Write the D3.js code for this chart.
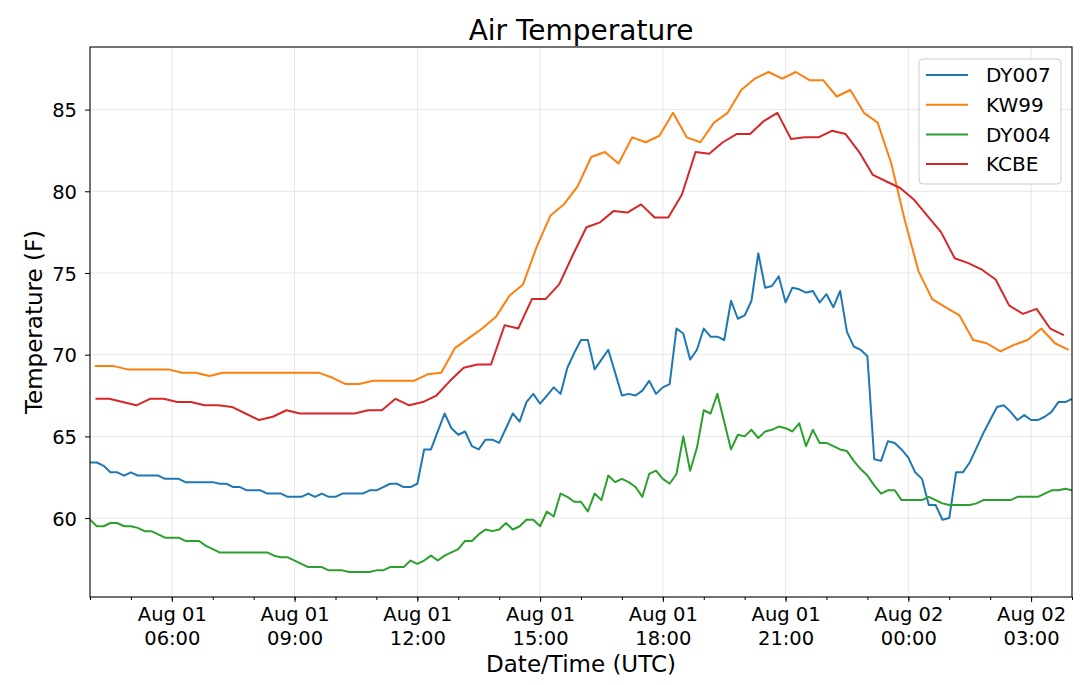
<!DOCTYPE html>
<html>
<head>
<meta charset="utf-8">
<script src="https://cdn.jsdelivr.net/npm/d3@7"></script>
<style>
  body { margin: 0; background: #fff; }
  svg text { font-family: "DejaVu Sans", sans-serif; fill: #000; }
</style>
</head>
<body>
<div id="chart"></div>
<script>
// Station readings (deg F)

// DY007 / DY004: every 10 minutes from Aug 01 04:00 UTC to Aug 02 04:00 UTC
const dy007Start = "2019-08-01T04:00Z";
const dy007Values = [
    63.4, 63.4, 63.2, 62.8, 62.8, 62.6, 62.8, 62.6, 62.6, 62.6,
    62.6, 62.4, 62.4, 62.4, 62.2, 62.2, 62.2, 62.2, 62.2, 62.1,
    62.1, 61.9, 61.9, 61.7, 61.7, 61.7, 61.5, 61.5, 61.5, 61.3,
    61.3, 61.3, 61.5, 61.3, 61.5, 61.3, 61.3, 61.5, 61.5, 61.5,
    61.5, 61.7, 61.7, 61.9, 62.1, 62.1, 61.9, 61.9, 62.1, 64.2,
    64.2, 65.3, 66.4, 65.5, 65.1, 65.3, 64.4, 64.2, 64.8, 64.8,
    64.6, 65.5, 66.4, 65.9, 67.1, 67.6, 67.0, 67.5, 68.0, 67.6,
    69.2, 70.1, 70.9, 70.9, 69.1, 69.7, 70.3, 68.9, 67.5, 67.6,
    67.5, 67.8, 68.4, 67.6, 68.0, 68.2, 71.6, 71.3, 69.7, 70.3,
    71.6, 71.1, 71.1, 70.9, 73.3, 72.2, 72.4, 73.3, 76.2, 74.1,
    74.2, 74.8, 73.2, 74.1, 74.0, 73.8, 73.9, 73.2, 73.7, 72.9,
    73.9, 71.4, 70.5, 70.3, 69.9, 63.6, 63.5, 64.7, 64.6, 64.2,
    63.7, 62.8, 62.4, 60.8, 60.8, 59.9, 60.0, 62.8, 62.8, 63.4,
    64.3, 65.2, 66.0, 66.8, 66.9, 66.5, 66.0, 66.3, 66.0, 66.0,
    66.2, 66.5, 67.1, 67.1, 67.3
];

const dy004Start = "2019-08-01T04:00Z";
const dy004Values = [
    59.9, 59.5, 59.5, 59.7, 59.7, 59.5, 59.5, 59.4, 59.2, 59.2,
    59.0, 58.8, 58.8, 58.8, 58.6, 58.6, 58.6, 58.3, 58.1, 57.9,
    57.9, 57.9, 57.9, 57.9, 57.9, 57.9, 57.9, 57.7, 57.6, 57.6,
    57.4, 57.2, 57.0, 57.0, 57.0, 56.8, 56.8, 56.8, 56.7, 56.7,
    56.7, 56.7, 56.8, 56.8, 57.0, 57.0, 57.0, 57.4, 57.2, 57.4,
    57.7, 57.4, 57.7, 57.9, 58.1, 58.6, 58.6, 59.0, 59.3, 59.2,
    59.3, 59.7, 59.3, 59.5, 59.9, 59.9, 59.5, 60.4, 60.1, 61.5,
    61.3, 61.0, 61.0, 60.4, 61.5, 61.1, 62.6, 62.2, 62.4, 62.2,
    61.9, 61.3, 62.7, 62.9, 62.4, 62.1, 62.7, 65.0, 62.9, 64.3,
    66.6, 66.4, 67.6, 65.9, 64.2, 65.1, 65.0, 65.4, 64.9, 65.3,
    65.4, 65.6, 65.5, 65.3, 65.8, 64.4, 65.4, 64.6, 64.6, 64.4,
    64.2, 64.1, 63.5, 63.0, 62.6, 62.0, 61.5, 61.7, 61.7, 61.1,
    61.1, 61.1, 61.1, 61.3, 61.1, 60.9, 60.8, 60.8, 60.8, 60.8,
    60.9, 61.1, 61.1, 61.1, 61.1, 61.1, 61.3, 61.3, 61.3, 61.3,
    61.5, 61.7, 61.7, 61.8, 61.7
];

// KW99: one report at 04:07, then every 20 minutes from 04:15 (:15, :35, :55)
const kw99FirstTime = "2019-08-01T04:07Z";
const kw99Start = "2019-08-01T04:15Z";
const kw99Values = [
    69.3,
    69.3, 69.3, 69.1,  69.1, 69.1, 69.1,  68.9, 68.9, 68.7,  68.9, 68.9, 68.9,
    68.9, 68.9, 68.9,  68.9, 68.9, 68.6,  68.2, 68.2, 68.4,  68.4, 68.4, 68.4,
    68.8, 68.9, 70.4,  71.0, 71.6, 72.3,  73.6, 74.3, 76.6,  78.5, 79.2, 80.3,
    82.1, 82.4, 81.7,  83.3, 83.0, 83.4,  84.8, 83.3, 83.0,  84.2, 84.8, 86.2,
    86.9, 87.3, 86.9,  87.3, 86.8, 86.8,  85.8, 86.2, 84.8,  84.2, 81.7, 78.2,
    75.1, 73.4, 72.9,  72.4, 70.9, 70.7,  70.2, 70.6, 70.9,  71.6, 70.7, 70.3
];

// KCBE: every 20 minutes from 04:08 (:08, :28, :48)
const kcbeStart = "2019-08-01T04:08Z";
const kcbeValues = [
    67.3, 67.3, 67.1,  66.9, 67.3, 67.3,  67.1, 67.1, 66.9,  66.9, 66.8, 66.4,
    66.0, 66.2, 66.6,  66.4, 66.4, 66.4,  66.4, 66.4, 66.6,  66.6, 67.3, 66.9,
    67.1, 67.5, 68.4,  69.2, 69.4, 69.4,  71.8, 71.6, 73.4,  73.4, 74.3, 76.1,
    77.8, 78.1, 78.8,  78.7, 79.2, 78.4,  78.4, 79.8, 82.4,  82.3, 83.0, 83.5,
    83.5, 84.3, 84.8,  83.2, 83.3, 83.3,  83.7, 83.5, 82.4,  81.0, 80.6, 80.2,
    79.5, 78.5, 77.5,  75.9, 75.6, 75.2,  74.6, 73.0, 72.5,  72.8, 71.6, 71.2
];

const seriesNames = ["DY007", "KW99", "DY004", "KCBE"];
const yTickValues = [60, 65, 70, 75, 80, 85];

// Build evenly spaced timestamps
function timesFrom(startIso, stepMinutes, n) {
    const t0 = new Date(startIso);
    return d3.range(n).map(i => d3.utcMinute.offset(t0, i * stepMinutes));
}

function toPoints(times, values) {
    return values.map((v, i) => ({ time: times[i], value: v }));
}

const series = [
    { name: "DY007", color: "#1f77b4",
      points: toPoints(timesFrom(dy007Start, 10, dy007Values.length), dy007Values) },
    { name: "KW99", color: "#ff7f0e",
      points: toPoints([new Date(kw99FirstTime)].concat(timesFrom(kw99Start, 20, kw99Values.length - 1)), kw99Values) },
    { name: "DY004", color: "#2ca02c",
      points: toPoints(timesFrom(dy004Start, 10, dy004Values.length), dy004Values) },
    { name: "KCBE", color: "#d62728",
      points: toPoints(timesFrom(kcbeStart, 20, kcbeValues.length), kcbeValues) }
];

// Set dimensions and margins
const margin = { top: 47, right: 8, bottom: 88, left: 90 };
const width = 1080 - margin.left - margin.right;
const height = 685 - margin.top - margin.bottom;

const svg = d3.select("#chart").append("svg")
    .attr("width", width + margin.left + margin.right)
    .attr("height", height + margin.top + margin.bottom)
    .append("g")
    .attr("transform", `translate(${margin.left},${margin.top})`);

// Scales: x spans the 10-minute stations, y gets a 5% pad like matplotlib
const xScale = d3.scaleUtc()
    .domain(d3.extent(series[0].points, d => d.time))
    .range([0, width]);

const allValues = series.flatMap(s => s.points.map(p => p.value));
const [yMin, yMax] = d3.extent(allValues);
const yPad = (yMax - yMin) * 0.05;
const yScale = d3.scaleLinear()
    .domain([yMin - yPad, yMax + yPad])
    .range([height, 0]);

const majorTicks = xScale.ticks(d3.utcHour.every(3));

// Grid lines
svg.append("g")
    .attr("class", "grid")
    .selectAll("line.gy")
    .data(yTickValues)
    .join("line")
    .attr("x1", 0)
    .attr("x2", width)
    .attr("y1", d => yScale(d))
    .attr("y2", d => yScale(d))
    .attr("stroke", "#b0b0b0")
    .attr("stroke-opacity", 0.3)
    .attr("stroke-width", 1);

svg.append("g")
    .attr("class", "grid")
    .selectAll("line.gx")
    .data(majorTicks)
    .join("line")
    .attr("x1", d => xScale(d))
    .attr("x2", d => xScale(d))
    .attr("y1", 0)
    .attr("y2", height)
    .attr("stroke", "#b0b0b0")
    .attr("stroke-opacity", 0.3)
    .attr("stroke-width", 1);

// Clip lines to the plot area
svg.append("clipPath")
    .attr("id", "plot-clip")
    .append("rect")
    .attr("width", width)
    .attr("height", height);

const line = d3.line()
    .x(d => xScale(d.time))
    .y(d => yScale(d.value));

series.forEach(s => {
    svg.append("path")
        .datum(s.points)
        .attr("clip-path", "url(#plot-clip)")
        .attr("d", line)
        .attr("fill", "none")
        .attr("stroke", s.color)
        .attr("stroke-width", 2)
        .attr("stroke-linejoin", "round");
});

// X axis: minor hourly ticks, major 3-hourly with two-line labels
svg.append("g")
    .attr("transform", `translate(0,${height})`)
    .call(d3.axisBottom(xScale).ticks(d3.utcHour.every(1)).tickSize(3).tickFormat(""))
    .call(g => g.select(".domain").remove());

const fmtDay = d3.utcFormat("%b %d");
const fmtTime = d3.utcFormat("%H:%M");

svg.append("g")
    .attr("class", "axis x-axis")
    .attr("transform", `translate(0,${height})`)
    .call(d3.axisBottom(xScale).tickValues(majorTicks).tickSize(5))
    .call(g => g.select(".domain").remove())
    .call(g => g.selectAll(".tick text").each(function(d) {
        const t = d3.select(this)
            .text(null)
            .attr("dy", null)
            .attr("y", null)
            .attr("font-size", "19.5px");
        t.append("tspan").attr("x", 0).attr("y", 24).text(fmtDay(d));
        t.append("tspan").attr("x", 0).attr("y", 48).text(fmtTime(d));
    }));

svg.append("text")
    .attr("x", width / 2)
    .attr("y", height + 75)
    .attr("text-anchor", "middle")
    .attr("font-size", "23px")
    .text("Date/Time (UTC)");

// Y axis
svg.append("g")
    .attr("class", "axis y-axis")
    .call(d3.axisLeft(yScale).tickValues(yTickValues).tickSize(5).tickPadding(8))
    .call(g => g.select(".domain").remove())
    .call(g => g.selectAll(".tick text")
        .attr("font-size", "19.5px")
        .attr("dy", "0.36em"));

svg.append("text")
    .attr("transform", `translate(-48,${height / 2}) rotate(-90)`)
    .attr("text-anchor", "middle")
    .attr("font-size", "23px")
    .text("Temperature (F)");

svg.selectAll(".axis line, .axis + g line").attr("stroke", "#000");

// Frame (all four spines)
svg.append("rect")
    .attr("width", width)
    .attr("height", height)
    .attr("fill", "none")
    .attr("stroke", "#000")
    .attr("stroke-width", 1.1);

// Legend
const legend = svg.append("g")
    .attr("class", "legend")
    .attr("transform", `translate(${width - 153}, 12)`);

legend.append("rect")
    .attr("width", 142)
    .attr("height", 125)
    .attr("rx", 4)
    .attr("fill", "#fff")
    .attr("fill-opacity", 0.8)
    .attr("stroke", "#cccccc");

seriesNames.forEach((name, i) => {
    const s = series.find(d => d.name === name);
    const yPos = 16 + i * 29.7;

    legend.append("line")
        .attr("x1", 7)
        .attr("x2", 49)
        .attr("y1", yPos)
        .attr("y2", yPos)
        .attr("stroke", s.color)
        .attr("stroke-width", 2);

    legend.append("text")
        .attr("x", 67)
        .attr("y", yPos)
        .attr("dy", "0.36em")
        .attr("font-size", "20px")
        .text(name);
});

// Title
svg.append("text")
    .attr("x", width / 2)
    .attr("y", -7)
    .attr("text-anchor", "middle")
    .attr("font-size", "28px")
    .text("Air Temperature");
</script>
</body>
</html>
